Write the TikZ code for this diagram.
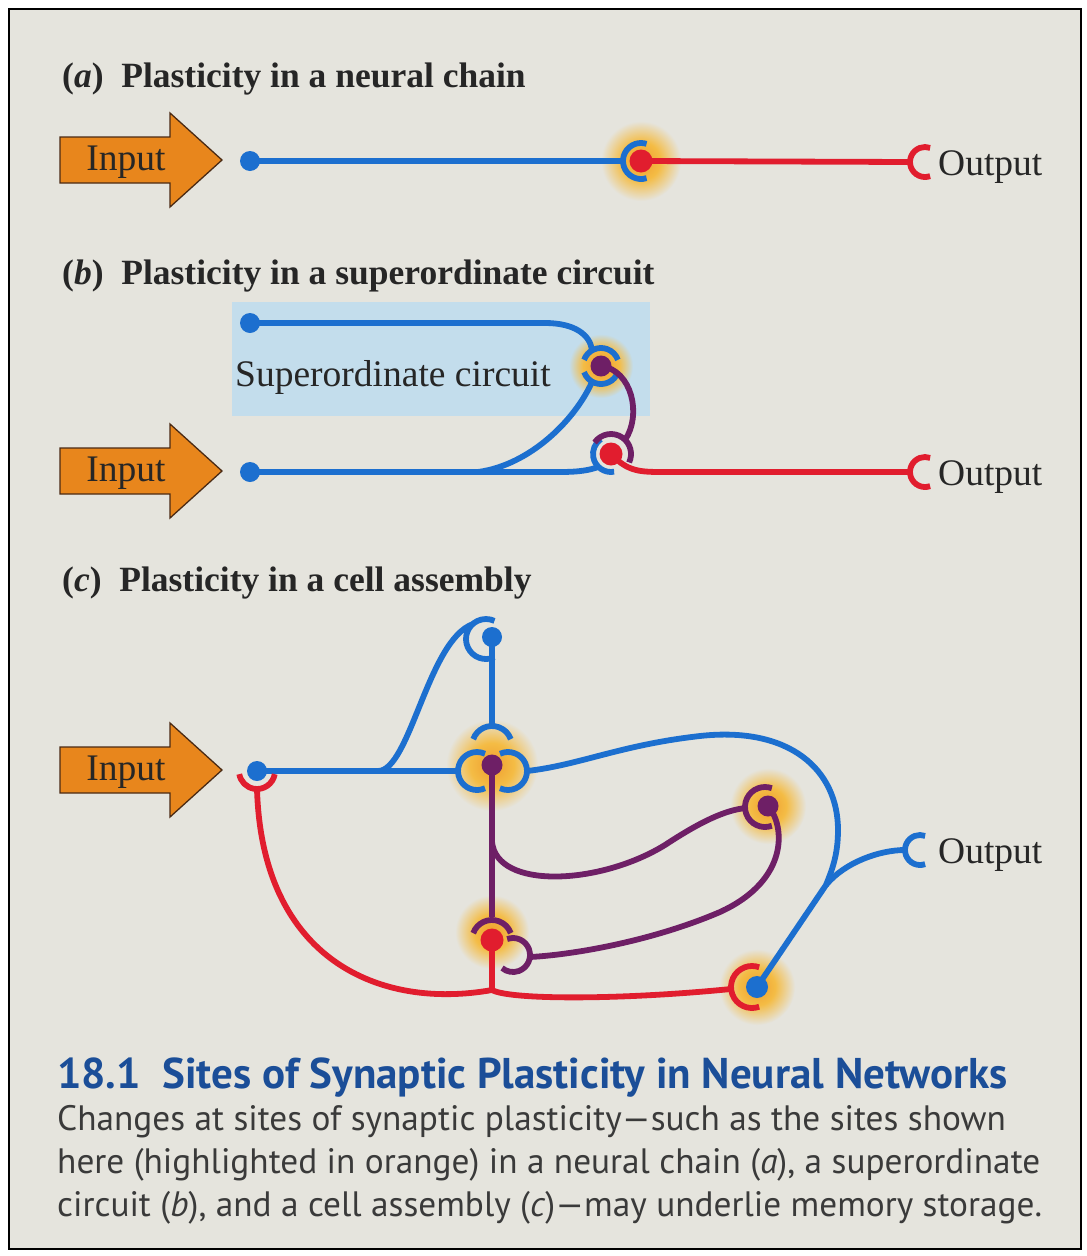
\documentclass[tikz,border=0pt]{standalone}
\usepackage{fontspec}
\setmainfont{Liberation Serif}
\newfontfamily\capfont{PT Sans}
\usetikzlibrary{positioning}
\definecolor{nsbg}{HTML}{E5E4DD}
\definecolor{nsbox}{HTML}{C3DDEC}
\definecolor{nsblue}{HTML}{1C6FCF}
\definecolor{nsred}{HTML}{E11D2E}
\definecolor{nspurple}{HTML}{6E1F66}
\definecolor{nsorange}{HTML}{E8861C}
\definecolor{nsbrown}{HTML}{4A2A14}
\definecolor{nsglow}{HTML}{EF9E2E}
\definecolor{nsglowy}{HTML}{F4BC45}
\definecolor{nshead}{HTML}{1B4E98}
\definecolor{nstext}{HTML}{3A3A3A}
\pgfdeclareradialshading{glowBg}{\pgfpointorigin}{color(0bp)=(nsglow);
  color(12bp)=(nsglowy); color(25bp)=(nsbg); color(50bp)=(nsbg)}
\pgfdeclareradialshading{glowBox}{\pgfpointorigin}{color(0bp)=(nsglow);
  color(14bp)=(nsglowy); color(25bp)=(nsbox); color(50bp)=(nsbox)}

\begin{document}
\begin{tikzpicture}[x=1pt,y=-1pt,
  soma/.style={circle,fill=#1,inner sep=0pt,minimum size=20pt},
  bigDot/.style={circle,fill=#1,inner sep=0pt,minimum size=23pt},
  axon/.style={draw=#1,line width=5.8pt},
  panelTitle/.style={anchor=base west,inner sep=0pt,text=black!85,
    font=\bfseries\fontsize{35.5}{40}\selectfont},
  cellText/.style={anchor=base west,inner sep=0pt,text=black!85,
    font=\fontsize{37.5}{42}\selectfont},
  captionHead/.style={anchor=base west,inner sep=0pt,text=nshead,
    font=\capfont\bfseries\fontsize{43}{46}\selectfont},
  captionBody/.style={anchor=base west,inner sep=0pt,text=nstext,
    font=\capfont\fontsize{35.3}{40}\selectfont},
  inputArrow/.pic={
    \draw[draw=nsbrown,fill=nsorange,line width=1.3pt,line join=miter]
      (0,-23) -- (110,-23) -- (110,-47) -- (162,0) -- (110,47) -- (110,23) -- (0,23) -- cycle;
    \node[cellText,anchor=base] (-lbl) at (66,10) {Input};
  }
]
\useasboundingbox (0,0) rectangle (1087,1256);
\fill[white] (0,0) rectangle (1087,1256);
\draw[fill=nsbg,line width=1.5pt] (9,9) rectangle (1081,1249);

% (a) neural chain
\node[panelTitle] (tA) at (62,87) {(\textit{a})\enspace Plasticity in a neural chain};
\pic (inA) at (60,160) {inputArrow};
\coordinate (pA) at (641,161);
\shade[shading=glowBg] (pA) circle[radius=40];
\node[soma=nsblue] (a1) at (250,161) {};
\coordinate (a1T) at (623,161);
\coordinate (oAT) at (910,162);
\draw[axon=nsblue] (a1.center) -- (a1T);
\draw[axon=nsblue] (pA) ++(72:18) arc[start angle=72,end angle=288,radius=18];
\draw[axon=nsred] (pA) -- (oAT);
\draw[axon=nsred] (925,162) ++(70:15) arc[start angle=70,end angle=290,radius=15];
\node[bigDot=nsred] (sA) at (pA) {};
\node[cellText] (oA) at (938,175) {Output};

% (b) superordinate circuit
\node[panelTitle] (tB) at (62,284) {(\textit{b})\enspace Plasticity in a superordinate circuit};
\fill[nsbox] (232,302) rectangle (650,416);
\node[cellText] (sc) at (235,386) {Superordinate circuit};
\pic (inB) at (60,471) {inputArrow};
\coordinate (pBu) at (601,366);
\coordinate (pBl) at (611,454);
\shade[shading=glowBox] (pBu) circle[radius=32];
\node[soma=nsblue] (b1) at (250,323) {};
\node[soma=nsblue] (b2) at (250,472) {};
\draw[axon=nsblue] (b1.center) -- (545,323) .. controls (575,323) and (590,335) .. (592,350);
\draw[axon=nsblue] (b2.center) -- (560,472) .. controls (580,472) and (590,470) .. (598,467);
\draw[axon=nsblue] (478,472) .. controls (530,465) and (575,420) .. (592,382);
\draw[axon=nsblue] (pBu) ++(200:18) arc[start angle=200,end angle=340,radius=18];
\draw[axon=nsblue] (pBu) ++(20:18) arc[start angle=20,end angle=160,radius=18];
\draw[axon=nsblue] (pBl) ++(80:18) arc[start angle=80,end angle=235,radius=18];
\draw[axon=nspurple] (pBu) .. controls (632,370) and (642,415) .. (625,440);
\draw[axon=nspurple] (pBl) ++(215:20) arc[start angle=215,end angle=385,radius=20];
\coordinate (oBT) at (910,472);
\draw[axon=nsred] (pBl) .. controls (628,472) and (640,472) .. (665,472) -- (oBT);
\draw[axon=nsred] (925,472) ++(70:15) arc[start angle=70,end angle=290,radius=15];
\node[soma=nspurple,minimum size=21pt] (sBu) at (pBu) {};
\node[bigDot=nsred] (sBl) at (pBl) {};
\node[cellText] (oB) at (938,485) {Output};

% (c) cell assembly
\node[panelTitle] (tC) at (62,591) {(\textit{c})\enspace Plasticity in a cell assembly};
\pic (inC) at (60,770) {inputArrow};
\coordinate (pC) at (492,765);
\coordinate (pD) at (492,940);
\coordinate (pE) at (768,806);
\coordinate (pF) at (757,987);
\coordinate (jO) at (826,885);
\coordinate (jR) at (492,990);
\shade[shading=glowBg] (pC) circle[radius=46];
\shade[shading=glowBg] (492,932) circle[radius=37];
\shade[shading=glowBg] (pE) circle[radius=38];
\shade[shading=glowBg] (pF) circle[radius=38];
\node[soma=nsblue] (c1) at (257,771) {};
\node[soma=nsblue] (c2) at (492,637) {};
\draw[axon=nsblue] (c1.center) -- (458,771);
\draw[axon=nsblue] (378,771) .. controls (410,771) and (428,640) .. (473,624);
\draw[axon=nsblue] (c2.center) -- (492,726);
\draw[axon=nsblue] (486,639) ++(65:20) arc[start angle=65,end angle=295,radius=20];
\draw[axon=nsblue] (477,771) ++(65:19) arc[start angle=65,end angle=295,radius=19];
\draw[axon=nsblue] (492,746) ++(200:20) arc[start angle=200,end angle=340,radius=20];
\draw[axon=nsblue] (508,771) ++(245:19) arc[start angle=245,end angle=475,radius=19];
\draw[axon=nsblue] (527,771) .. controls (580,765) and (620,745) .. (700,736)
  .. controls (790,726) and (838,770) .. (838,830)
  .. controls (838,855) and (832,870) .. (jO) -- (pF);
\draw[axon=nsblue] (jO) .. controls (845,862) and (880,850) .. (905,850);
\draw[axon=nsblue] (920,850) ++(70:15) arc[start angle=70,end angle=290,radius=15];
\draw[axon=nspurple] (pC) -- (492,917);
\draw[axon=nspurple] (pD) ++(200:20) arc[start angle=200,end angle=340,radius=20];
\draw[axon=nspurple] (492,842) .. controls (497,890) and (600,885) .. (665,845)
  .. controls (700,822) and (725,810) .. (746,808);
\draw[axon=nspurple] (765,807) ++(70:20) arc[start angle=70,end angle=290,radius=20];
\draw[axon=nspurple] (pE) .. controls (785,825) and (790,880) .. (720,912)
  .. controls (650,942) and (570,955) .. (530,957);
\draw[axon=nspurple] (513,955) ++(250:17) arc[start angle=250,end angle=490,radius=17];
\draw[axon=nsred] (pD) -- (jR);
\draw[axon=nsred] (jR) .. controls (380,1010) and (262,960) .. (257,789);
\draw[axon=nsred] (jR) .. controls (510,1000) and (620,1000) .. (731,989);
\draw[axon=nsred] (257,771) ++(10:18) arc[start angle=10,end angle=170,radius=18];
\draw[axon=nsred] (752,987) ++(70:21) arc[start angle=70,end angle=290,radius=21];
\node[soma=nspurple,minimum size=21pt] (sC) at (pC) {};
\node[bigDot=nsred] (sD) at (pD) {};
\node[soma=nspurple,minimum size=21pt] (sE) at (pE) {};
\node[soma=nsblue,minimum size=22pt] (sF) at (pF) {};
\node[cellText] (oC) at (938,863) {Output};

% caption
\node[captionHead] (capH) at (57,1088) {18.1\enspace Sites of Synaptic Plasticity in Neural Networks};
\node[captionBody] (cap1) at (57,1130) {Changes at sites of synaptic plasticity—such as the sites shown};
\node[captionBody] (cap2) at (57,1173) {here (highlighted in orange) in a neural chain (\textit{a}), a superordinate};
\node[captionBody] (cap3) at (57,1216) {circuit (\textit{b}), and a cell assembly (\textit{c})—may underlie memory storage.};
\end{tikzpicture}
\end{document}
